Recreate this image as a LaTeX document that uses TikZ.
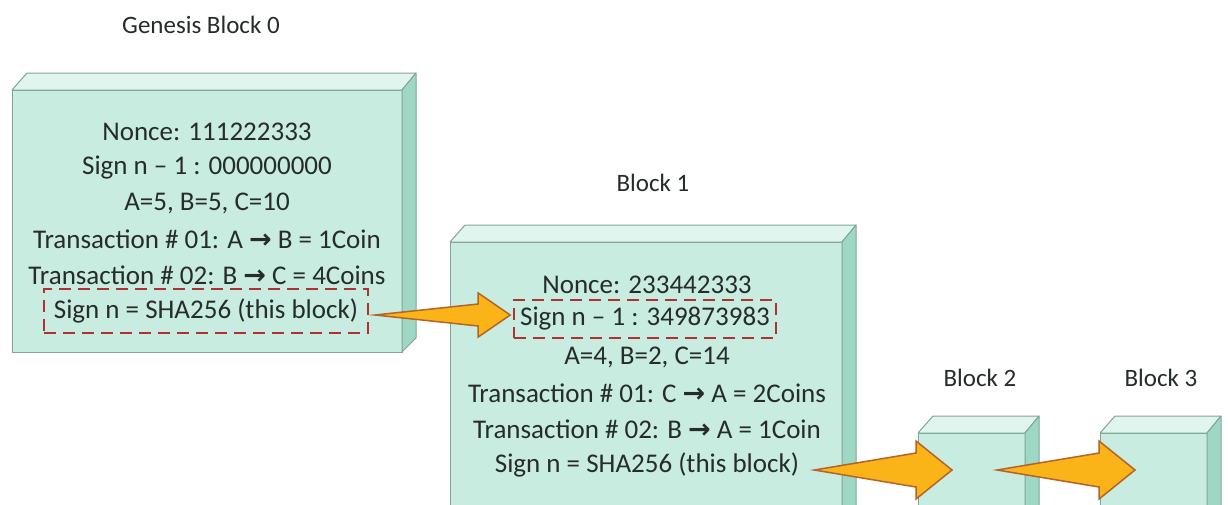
\documentclass[tikz,border=0pt]{standalone}
\usepackage{fontspec}
\setmainfont{Carlito}
\newfontfamily\symfont{DejaVu Sans}
\usetikzlibrary{calc}
\definecolor{frontc}{RGB}{200,236,223}
\definecolor{topc}{RGB}{224,245,238}
\definecolor{sidec}{RGB}{158,216,196}
\definecolor{edgec}{RGB}{128,166,152}
\definecolor{txtc}{RGB}{38,44,42}
\definecolor{dashc}{RGB}{175,50,50}
\definecolor{arrfill}{RGB}{251,180,24}
\definecolor{arredge}{RGB}{180,100,40}
\newcommand\myarrow{{\symfont\bfseries →}}
\tikzset{
  face/.style={draw=edgec, line width=1pt, line join=round},
  frontface/.style={face, fill=frontc, inner sep=0pt, outer sep=0pt},
  txtline/.style={text=txtc, font=\fontsize{27}{33}\selectfont, inner sep=0pt, anchor=center},
  blocktitle/.style={text=txtc, font=\fontsize{25}{30}\selectfont, inner sep=0pt},
  dashbox/.style={txtline, draw=dashc, dash pattern=on 12pt off 7pt, line width=1.8pt, inner xsep=10pt, minimum height=44pt},
  arrowstyle/.style={fill=arrfill, draw=arredge, line width=1.5pt, line join=miter},
}
\newcommand\drawblock[5]{%
  \node[frontface, minimum width=#4pt, minimum height=#5pt] (#1) at (#2,#3) {};
  \draw[face, fill=topc] (#1.north west) -- ++(15,-17) -- ($(#1.north east)+(14,-17)$) -- (#1.north east) -- cycle;
  \draw[face, fill=sidec] (#1.north east) -- ++(14,-17) -- ($(#1.south east)+(14,-14)$) -- (#1.south east) -- cycle;
}
\newcommand\blockarrow[5]{%
  \draw[arrowstyle] (#1) -- ($(#2)+(-#4,-#5)$) -- ($(#2)+(-#4,-#3)$) -- (#2) -- ($(#2)+(-#4,#3)$) -- ($(#2)+(-#4,#5)$) -- cycle;
}
\begin{document}
\begin{tikzpicture}[x=1pt,y=-1pt]
\useasboundingbox (0,0) rectangle (1228,504);
\clip (0,0) rectangle (1228,504);
\fill[white] (0,0) rectangle (1228,504);

% titles
\node[blocktitle] (t0) at (201,25) {Genesis Block 0};
\node[blocktitle] (t1) at (653,183) {Block 1};
\node[blocktitle] (t2) at (980,378) {Block 2};
\node[blocktitle] (t3) at (1161,378) {Block 3};

% blocks
\drawblock{gen}{207}{221}{390}{262}
\drawblock{blk1}{646}{381}{392}{278}
\drawblock{blk2}{971.5}{476.5}{107}{87}
\drawblock{blk3}{1153.5}{476.5}{107}{87}

% genesis text
\node[txtline] (g1) at (207,132) {Nonce: 111222333};
\node[txtline] (g2) at (207,168) {Sign n – 1 : 000000000};
\node[txtline] (g3) at (207,203) {A=5, B=5, C=10};
\node[txtline] (g4) at (207,239) {Transaction \# 01: A \myarrow{} B = 1Coin};
\node[txtline] (g5) at (207,275) {Transaction \# 02: B \myarrow{} C = 4Coins};
\node[dashbox] (g6) at (206,311) {Sign n = SHA256 (this block)};

% block 1 text
\node[txtline] (b1) at (647,285) {Nonce: 233442333};
\node[dashbox, inner xsep=6pt, minimum height=38pt] (b2) at (645,319) {Sign n – 1 : 349873983};
\node[txtline] (b3) at (647,357) {A=4, B=2, C=14};
\node[txtline] (b4) at (647,393) {Transaction \# 01: C \myarrow{} A = 2Coins};
\node[txtline] (b5) at (647,429) {Transaction \# 02: B \myarrow{} A = 1Coin};
\node[txtline] (b6) at (647,465) {Sign n = SHA256 (this block)};

% arrows
\coordinate (a1s) at ($(g6.east)+(6,4)$);
\coordinate (a1e) at ($(b2.west)+(-3,-4)$);
\coordinate (a2s) at ($(b6.east)+(15,5)$);
\coordinate (a2e) at ($(blk2.north west)+(34,37)$);
\coordinate (a3s) at ($(blk2.north west)+(79,37)$);
\coordinate (a3e) at ($(blk3.north west)+(35,37)$);
\blockarrow{a1s}{a1e}{22}{32}{11}
\blockarrow{a2s}{a2e}{29}{36}{17}
\blockarrow{a3s}{a3e}{29}{36}{17}
\end{tikzpicture}
\end{document}
